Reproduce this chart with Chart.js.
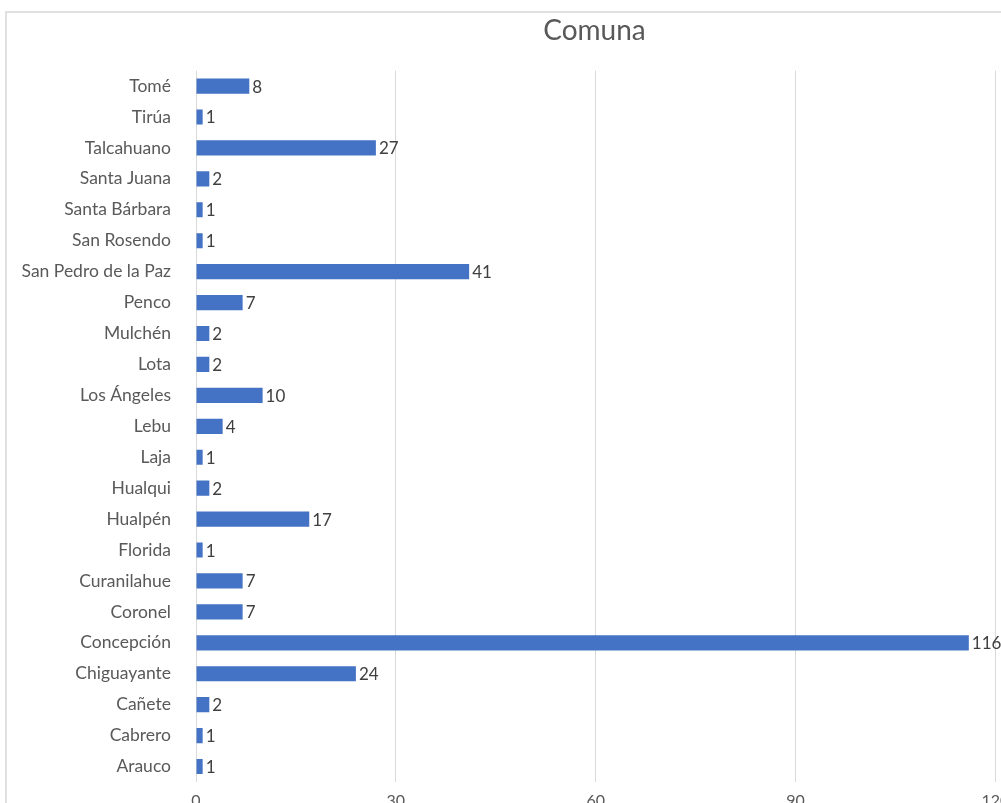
<!DOCTYPE html>
<html>
<head>
<meta charset="utf-8">
<script src="https://cdn.jsdelivr.net/npm/chart.js@4.4.1/dist/chart.umd.min.js"></script>
<style>
  html, body { margin: 0; padding: 0; background: #fff; overflow: hidden; }
  #box { position: absolute; left: 5px; top: 11px; width: 1175px; height: 830px; border: 2px solid #e0e0e0; }
</style>
</head>
<body>
<div id="box"><canvas id="barChart" width="1175" height="830"></canvas></div>
<script>
const comunas = [
    "Tomé", "Tirúa", "Talcahuano", "Santa Juana", "Santa Bárbara", "San Rosendo",
    "San Pedro de la Paz", "Penco", "Mulchén", "Lota", "Los Ángeles", "Lebu", "Laja",
    "Hualqui", "Hualpén", "Florida", "Curanilahue", "Coronel", "Concepción",
    "Chiguayante", "Cañete", "Cabrero", "Arauco"
]

const cantidad = [8, 1, 27, 2, 1, 1, 41, 7, 2, 2, 10, 4, 1, 2, 17, 1, 7, 7, 116, 24, 2, 1, 1]

const xTicks = [0, 30, 60, 90, 120]

const fontFamily = "Lato, 'Open Sans', sans-serif"

// value labels at the end of each bar
const valueLabels = {
    id: "valueLabels",
    afterDatasetsDraw(chart) {
        const ctx = chart.ctx
        const meta = chart.getDatasetMeta(0)
        ctx.save()
        ctx.font = "17px " + fontFamily
        ctx.fillStyle = "#404040"
        ctx.textAlign = "left"
        ctx.textBaseline = "middle"
        meta.data.forEach((bar, i) => {
            ctx.fillText(String(cantidad[i]), bar.x + 3, bar.y + 1)
        })
        ctx.restore()
    }
}

new Chart(document.getElementById("barChart"), {
    type: "bar",
    data: {
        labels: comunas,
        datasets: [
            {
                label: "Comuna",
                data: cantidad,
                backgroundColor: "#4472C4",
                barPercentage: 0.49,
                categoryPercentage: 1
            }
        ]
    },
    options: {
        indexAxis: "y",
        responsive: false,
        animation: false,
        layout: { padding: 0 },
        plugins: {
            legend: { display: false },
            tooltip: { enabled: false },
            title: {
                display: true,
                text: "Comuna",
                color: "#595959",
                font: { family: fontFamily, size: 28, weight: "normal" },
                padding: { top: 1, bottom: 23 }
            }
        },
        scales: {
            x: {
                min: 0,
                max: 148,
                afterFit: (scale) => { scale.height = 61 },
                afterBuildTicks: (scale) => { scale.ticks = xTicks.map(v => ({ value: v })) },
                grid: { color: "#d9d9d9", drawTicks: false },
                border: { display: false },
                ticks: { color: "#595959", padding: 9, font: { family: fontFamily, size: 16 } }
            },
            y: {
                afterFit: (scale) => { scale.width = 189 },
                grid: { display: false },
                border: { display: false },
                ticks: { color: "#595959", padding: 17, font: { family: fontFamily, size: 17.5 } }
            }
        }
    },
    plugins: [valueLabels]
})
</script>
</body>
</html>
